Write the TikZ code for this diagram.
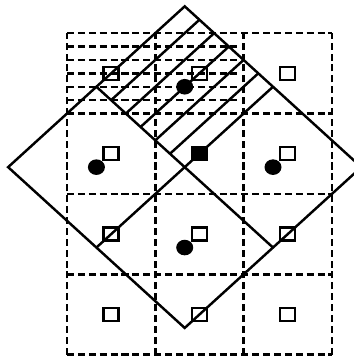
\documentclass[tikz,border=0pt]{standalone}
\usetikzlibrary{calc}
\tikzset{
  grid line/.style={dash pattern=on 2pt off 1.1pt, line width=0.7pt},
  cell mark/.style={draw, rectangle, minimum width=0.15cm, minimum height=0.13cm, inner sep=0pt, line width=0.7pt},
}
\begin{document}
\begin{tikzpicture}[x=0.883cm, y=0.804cm, line width=0.7pt]
        \useasboundingbox (-0.759,-0.016) rectangle (3.239,4.412);

        % dashed cells
        \foreach \i in {0,1,...,3}{
            \draw[grid line] (\i,0) -- (\i,4);
        }
        \foreach \j in {0,1,...,4}{
            \draw[grid line] (0,\j) -- (3,\j);
        }
        \foreach \k in {3,4,5}{
            \draw[grid line] (0,{3+\k/6}) -- (1.93,{3+\k/6});
        }
        \foreach \k in {1,2}{
            \draw[grid line, line width=0.5pt] (0,{3+\k/6}) -- (1.93,{3+\k/6});
        }

        % the rotated square
        \coordinate (top) at (1.333,4.333);
        \coordinate (left) at (-0.667,2.333);
        \coordinate (bot) at (1.333,0.333);
        \coordinate (right) at (3.333,2.333);
        \coordinate (c) at (1.333,2.333);
        \coordinate (tl) at ($(top)!0.5!(left)$);
        \coordinate (tr) at ($(top)!0.5!(right)$);
        \coordinate (bl) at ($(bot)!0.5!(left)$);
        \coordinate (br) at ($(bot)!0.5!(right)$);

        \draw (top) -- (right) -- (bot) -- (left) -- cycle;
        \draw (tl) -- (br);
        \draw (tr) -- (bl);
        \foreach \k in {1,...,5}{
            \draw ($(tl)!\k/6!(c)$) -- ($(top)!\k/6!(tr)$);
        }

        % cell marks
        \foreach \i in {0,1,2}{
            \foreach \j in {0,1,...,3}{
                \node[cell mark] (sq-\i-\j) at (\i+0.5,\j+0.5) {};
            }
        }
        \fill[black] (sq-1-2.south west) rectangle (sq-1-2.north east);

        \foreach \v in {top,left,bot,right}{
            \fill[black] ($(\v)!0.5!(c)$) ellipse [x radius=0.085cm, y radius=0.078cm];
        }
    \end{tikzpicture}
\end{document}
